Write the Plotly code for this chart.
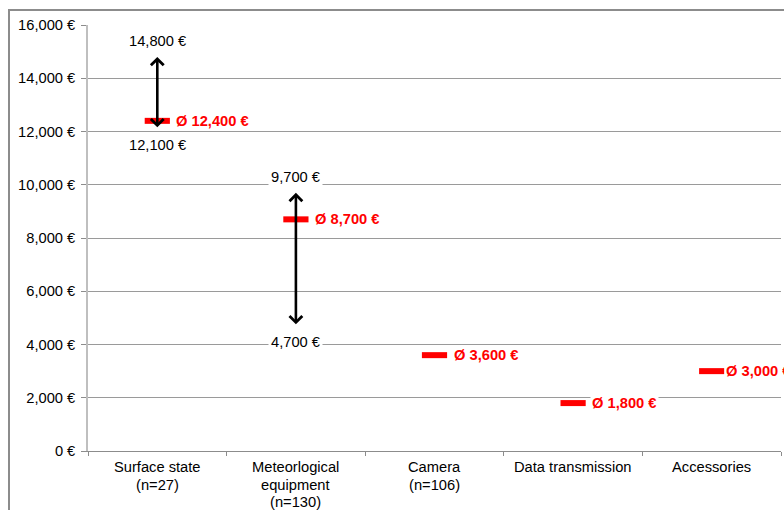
import plotly.graph_objects as go

# Cost categories and their price statistics (EUR)
categories = ["Surface state<br>(n=27)", "Meteorlogical<br>equipment<br>(n=130)",
              "Camera<br>(n=106)", "Data transmission", "Accessories"]
avg_cost = [12400, 8700, 3600, 1800, 3000]
min_cost = [12100, 4700, None, None, None]
max_cost = [14800, 9700, None, None, None]
y_ticks = [0, 2000, 4000, 6000, 8000, 10000, 12000, 14000, 16000]

FONT = "Liberation Sans, Arial, sans-serif"
FS = 14.7
RED = "#FF0000"

fig = go.Figure()

# Average cost marks
fig.add_trace(go.Scatter(
    x=categories, y=avg_cost, mode="markers",
    marker=dict(symbol="line-ew", size=18, color=RED,
                line=dict(color=RED, width=6)),
    hoverinfo="skip", showlegend=False, cliponaxis=False,
))

annotations = []
n = len(categories)
for i, (cat, avg) in enumerate(zip(categories, avg_cost)):
    # the label at the right edge sits a little closer to its mark
    shift = 12 if i == n - 1 else 17
    annotations.append(dict(
        x=i, y=avg, xref="x", yref="y", text=f"<b>Ø {avg:,} €</b>",
        showarrow=False, xanchor="left", yanchor="middle", xshift=shift,
        font=dict(family=FONT, size=FS, color=RED),
        bgcolor="white", borderpad=1,
    ))
    # Category label, one line per annotation for tighter line spacing
    for k, line in enumerate(cat.split("<br>")):
        annotations.append(dict(
            x=i, y=0, xref="x", yref="paper", text=line, showarrow=False,
            yanchor="middle", yshift=-16 - 17.5 * k,
            font=dict(family=FONT, size=FS, color="black"),
        ))
    lo, hi = min_cost[i], max_cost[i]
    if lo is None or hi is None:
        continue
    # Min-max range arrow
    annotations.append(dict(
        x=i, y=hi, ax=i, ay=lo, xref="x", yref="y", axref="x", ayref="y",
        text="", showarrow=True, arrowside="end+start", arrowhead=4,
        arrowsize=0.95, arrowwidth=2.6, arrowcolor="black",
        standoff=0, startstandoff=0,
    ))
    annotations.append(dict(
        x=i, y=hi, xref="x", yref="y", text=f"{hi:,} €", showarrow=False,
        yshift=16, yanchor="middle",
        font=dict(family=FONT, size=FS, color="black"),
        bgcolor="white", borderpad=2,
    ))
    annotations.append(dict(
        x=i, y=lo, xref="x", yref="y", text=f"{lo:,} €", showarrow=False,
        yshift=-16, yanchor="middle",
        font=dict(family=FONT, size=FS, color="black"),
        bgcolor="white", borderpad=2,
    ))

# Outer chart frame
L, R, T, B = 88, 3, 25, 59
W, H = 784, 510
pw, ph = W - L - R, H - T - B
frame = dict(
    type="rect", xref="paper", yref="paper",
    x0=(9 - L) / pw, x1=1 + 40 / pw,
    y0=-80 / ph, y1=1 + (T - 10) / ph,
    line=dict(color="#8c8c8c", width=2), layer="below",
)

fig.update_layout(
    width=W, height=H,
    margin=dict(l=L, r=R, t=T, b=B),
    paper_bgcolor="white", plot_bgcolor="white",
    font=dict(family=FONT, size=FS, color="black"),
    showlegend=False,
    annotations=annotations,
    shapes=[frame],
    xaxis=dict(
        type="category", categoryorder="array", categoryarray=categories,
        range=[-0.5, 4.5], tickson="boundaries", ticks="outside", ticklen=4,
        tickcolor="#8c8c8c", showline=True, linecolor="#8c8c8c", linewidth=1,
        showgrid=False, showticklabels=False,
    ),
    yaxis=dict(
        range=[0, 16000], tickvals=y_ticks,
        ticktext=[f"{v:,} €" for v in y_ticks],
        ticks="outside", ticklen=5, tickcolor="#8c8c8c",
        ticklabelstandoff=3,
        showline=True, linecolor="#bfbfbf", linewidth=1.5,
        showgrid=True, gridcolor="#9a9a9a", gridwidth=1,
        zeroline=False, tickfont=dict(size=FS, color="black"),
    ),
)

fig.write_html("out.html")
